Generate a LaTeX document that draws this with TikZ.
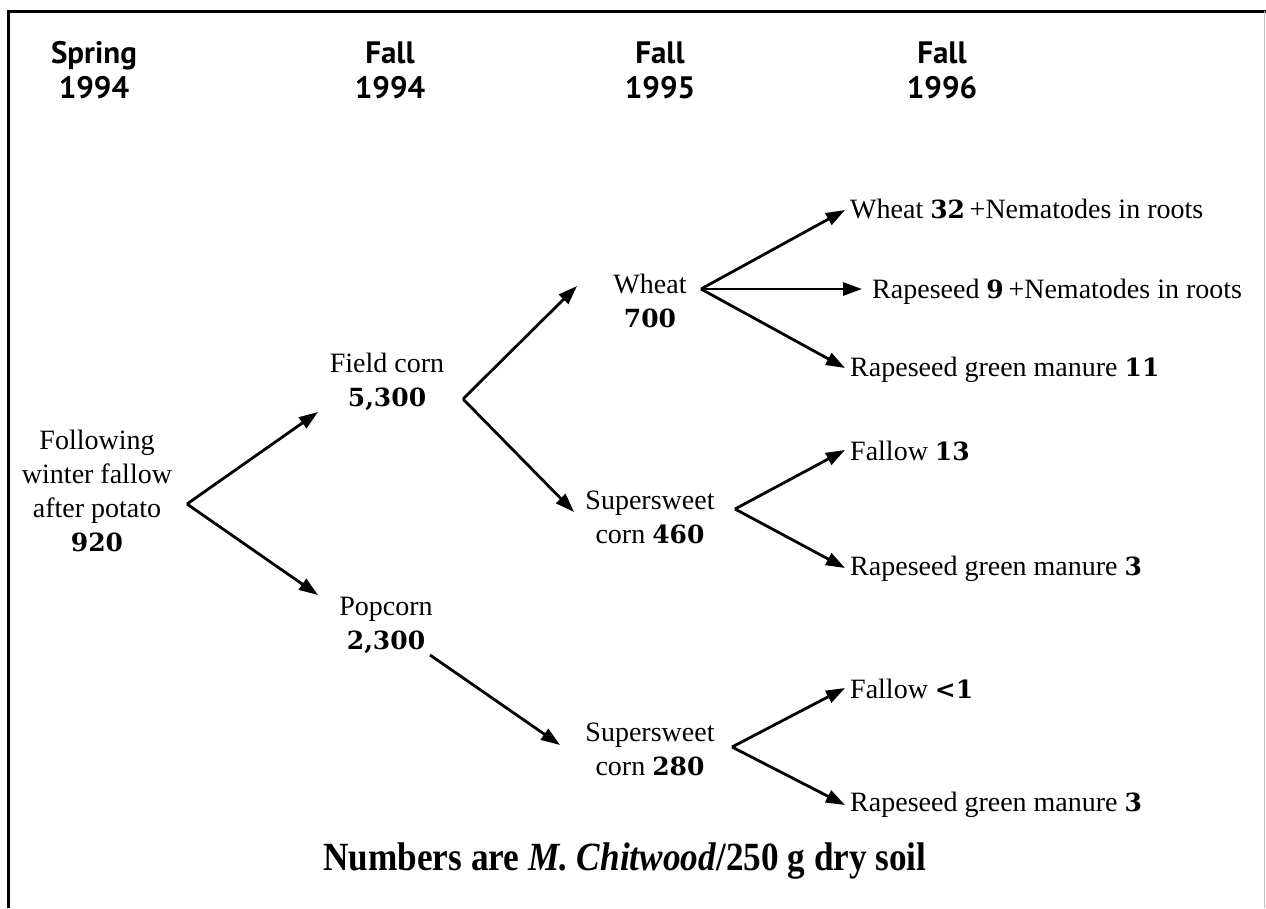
\documentclass[tikz,border=0pt]{standalone}
\usepackage{fontspec}
\setmainfont{Liberation Serif}
\newfontfamily\headfont{PT Sans}
\newfontfamily\numfont{DejaVu Serif}
\newfontfamily\capfont{Liberation Serif}[FakeStretch=0.88]
\usetikzlibrary{arrows.meta}
\newcommand\nb[1]{{\numfont\bfseries\fontsize{25}{34}\selectfont #1}}
\begin{document}
\begin{tikzpicture}[x=1pt,y=-1pt,
  arr/.style={line width=2.8pt,-{Triangle[length=19pt,width=13pt]}},
  head/.style={font=\headfont\bfseries\fontsize{31}{35}\selectfont,align=center,inner sep=0pt},
  body/.style={font=\fontsize{28}{34}\selectfont,align=center,inner sep=0pt},
  lab/.style={font=\fontsize{28}{34}\selectfont,inner sep=0pt,anchor=base west}]
\useasboundingbox (0,0) rectangle (1266,908);
\fill[white] (0,0) rectangle (1266,908);
% frame
\draw[line width=3pt] (8,908) -- (8,11) -- (1266,11);
\draw[black!25,line width=1pt] (1264.5,11) -- (1264.5,908);
% headers
\node[head] (h1) at (94,70) {Spring\\1994};
\node[head] (h2) at (390,70) {Fall\\1994};
\node[head] (h3) at (660,70) {Fall\\1995};
\node[head] (h4) at (942,70) {Fall\\1996};
% tree nodes
\node[body] (root) at (97,491) {Following\\winter fallow\\after potato\\\nb{920}};
\node[body] (fc) at (387,382) {Field corn\\\nb{5,300}};
\node[body] (pc) at (386,625) {Popcorn\\\nb{2,300}};
\node[body] (wh) at (650,301) {Wheat\\\nb{700}};
\node[body] (ssa) at (650,517) {Supersweet\\corn \nb{460}};
\node[body] (ssb) at (650,749) {Supersweet\\corn \nb{280}};
% leaf labels
\node[lab] (w32) at (850,218) {Wheat \nb{32}\,+Nematodes in roots};
\node[lab] (r9) at (872,298) {Rapeseed \nb{9}\,+Nematodes in roots};
\node[lab] (rg11) at (850,376) {Rapeseed green manure \nb{11}};
\node[lab] (f13) at (850,460) {Fallow \nb{13}};
\node[lab] (rg3a) at (850,575) {Rapeseed green manure \nb{3}};
\node[lab] (f1) at (850,698) {Fallow \nb{<1}};
\node[lab] (rg3b) at (850,811) {Rapeseed green manure \nb{3}};
% caption
\node[font=\capfont\bfseries\fontsize{40}{44}\selectfont,inner sep=0pt,anchor=base] (cap) at (625,870) {Numbers are \textit{M. Chitwood}/250 g dry soil};
% connector points
\coordinate (rootout) at (187,504);
\coordinate (fcin) at (318,412);
\coordinate (pcin) at (318,595);
\coordinate (fcout) at (463,399);
\coordinate (whin) at (577,286);
\coordinate (ssain) at (574,512);
\coordinate (pcout) at (430,655);
\coordinate (ssbin) at (560,745);
\coordinate (whout) at (701,289);
\coordinate (w32in) at (845,210);
\coordinate (r9in) at (862,289);
\coordinate (rg11in) at (845,368);
\coordinate (ssaout) at (735,509);
\coordinate (f13in) at (845,450);
\coordinate (rg3ain) at (845,568);
\coordinate (ssbout) at (732,747);
\coordinate (f1in) at (845,688);
\coordinate (rg3bin) at (845,805);
% connectors
\draw[arr] (rootout) -- (fcin);
\draw[arr] (rootout) -- (pcin);
\draw[arr] (fcout) -- (whin);
\draw[arr] (fcout) -- (ssain);
\draw[arr] (pcout) -- (ssbin);
\draw[arr] (whout) -- (w32in);
\draw[arr] (whout) -- (r9in);
\draw[arr] (whout) -- (rg11in);
\draw[arr] (ssaout) -- (f13in);
\draw[arr] (ssaout) -- (rg3ain);
\draw[arr] (ssbout) -- (f1in);
\draw[arr] (ssbout) -- (rg3bin);
\end{tikzpicture}
\end{document}
